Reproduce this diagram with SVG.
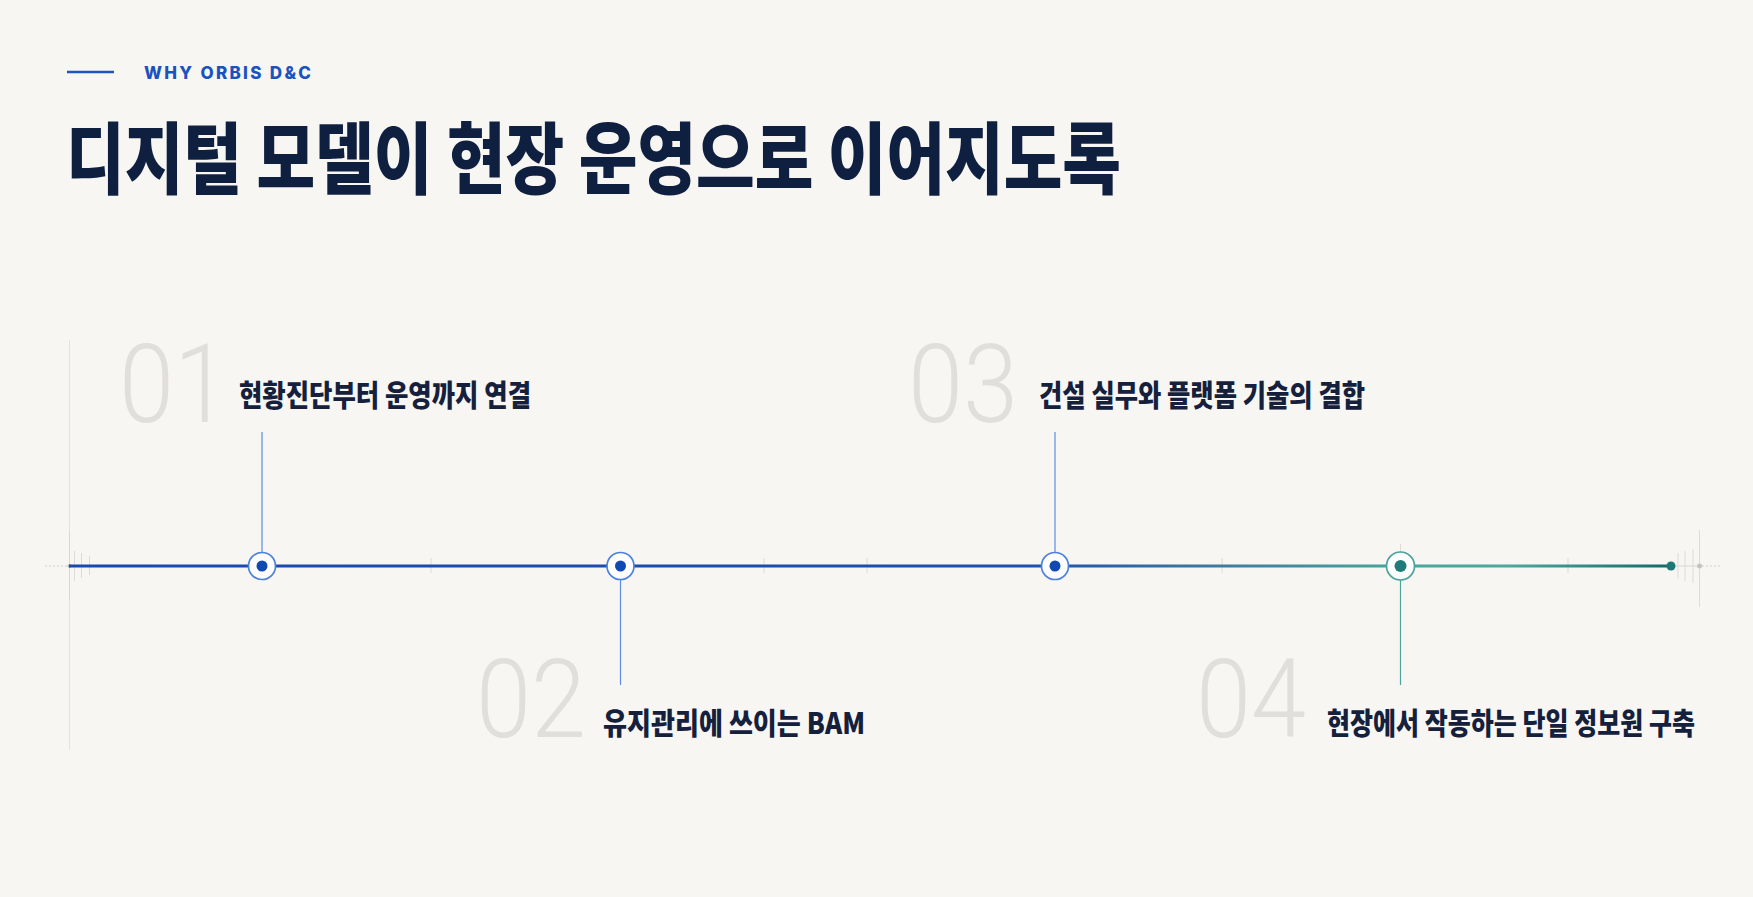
<svg xmlns="http://www.w3.org/2000/svg" width="1753" height="897" viewBox="0 0 1753 897">
  <defs>
    <style>
      .eyebrow { font-family: "Inter", "Liberation Sans", sans-serif; font-weight: 800; font-size: 17px; fill: #1a52c2; }
      .title { font-family: "Noto Sans CJK KR", "Noto Sans", sans-serif; font-weight: 900; font-size: 78px; fill: #0f1f3f; }
      .num { font-family: "Roboto", "Noto Sans", sans-serif; font-weight: 300; font-size: 110px; fill: #e1dfdb; }
      .label { font-family: "Noto Sans CJK KR", "Noto Sans", sans-serif; font-weight: 900; font-size: 29.5px; fill: #15213c; }
      .faint { stroke: #e4e2de; stroke-width: 1; fill: none; }
      .tick { stroke: #dddbd7; stroke-width: 1; fill: none; }
      .stem-blue { stroke: #5d8ee0; stroke-width: 1.2; fill: none; }
      .stem-teal { stroke: #4fa39c; stroke-width: 1.2; fill: none; }
      .ring-blue { fill: #fefefe; stroke: #4d82da; stroke-width: 1.7; }
      .ring-teal { fill: #fefefe; stroke: #4aa39c; stroke-width: 1.7; }
      .dot-blue { fill: #1149b2; }
      .dot-teal { fill: #1e7b79; }
    </style>
    <linearGradient id="tl" gradientUnits="userSpaceOnUse" x1="69" y1="0" x2="1671" y2="0">
      <stop offset="0" stop-color="#1848b2"/>
      <stop offset="0.6" stop-color="#1d4fb0"/>
      <stop offset="0.72" stop-color="#3f7d9e"/>
      <stop offset="0.83" stop-color="#45a79c"/>
      <stop offset="0.9" stop-color="#4aa89f"/>
      <stop offset="1" stop-color="#106b6b"/>
    </linearGradient>
  </defs>

  <rect x="0" y="0" width="1753" height="897" fill="#f7f6f2"/>

  <g id="header">
    <line x1="67" y1="72" x2="114" y2="72" stroke="#1d54c4" stroke-width="2.5"/>
    <text class="eyebrow" x="144" y="78.5" textLength="167" lengthAdjust="spacing">WHY ORBIS D&amp;C</text>
    <text class="title" x="66" y="188" textLength="1055" lengthAdjust="spacingAndGlyphs">디지털 모델이 현장 운영으로 이어지도록</text>
  </g>

  <g id="guides">
    <line class="faint" x1="69.5" y1="340" x2="69.5" y2="750"/>
    <line x1="69.5" y1="530" x2="69.5" y2="600" stroke="#dad8d4" stroke-width="1"/>
    <line x1="45" y1="566" x2="69" y2="566" stroke="#cfcdc9" stroke-width="1" stroke-dasharray="2 2"/>
    <circle cx="69.5" cy="566" r="2" fill="#b9b8b5"/>
    <line class="tick" x1="74.5" y1="551" x2="74.5" y2="581"/>
    <line class="tick" x1="81.5" y1="553" x2="81.5" y2="578"/>
    <line class="tick" x1="89.5" y1="556" x2="89.5" y2="575"/>
    <line class="tick" x1="431" y1="558" x2="431" y2="573"/>
    <line class="tick" x1="764" y1="558" x2="764" y2="573"/>
    <line class="tick" x1="867" y1="558" x2="867" y2="573"/>
    <line class="tick" x1="1222" y1="558" x2="1222" y2="573"/>
    <line class="tick" x1="1400.5" y1="544" x2="1400.5" y2="588"/>
    <line class="tick" x1="1568" y1="558" x2="1568" y2="573"/>
    <line x1="1671" y1="566" x2="1699" y2="566" stroke="#d9d7d3" stroke-width="1"/>
    <line class="tick" x1="1678" y1="553" x2="1678" y2="579"/>
    <line class="tick" x1="1685" y1="551" x2="1685" y2="581"/>
    <line class="tick" x1="1693" y1="549" x2="1693" y2="583"/>
    <line x1="1699.5" y1="530" x2="1699.5" y2="607" stroke="#dedcd8" stroke-width="1"/>
    <circle cx="1699.5" cy="566" r="2.5" fill="#c4c3c0"/>
    <line x1="1702" y1="566" x2="1722" y2="566" stroke="#d3d1cd" stroke-width="1" stroke-dasharray="2 2"/>
  </g>

  <g id="connectors">
    <line x1="69" y1="566" x2="1671" y2="566" stroke="url(#tl)" stroke-width="3"/>
    <line class="stem-blue" x1="262" y1="432" x2="262" y2="552"/>
    <line class="stem-blue" x1="620.5" y1="580" x2="620.5" y2="685"/>
    <line class="stem-blue" x1="1055" y1="432" x2="1055" y2="552"/>
    <line class="stem-teal" x1="1400.5" y1="580" x2="1400.5" y2="685"/>
  </g>

  <g id="node-01">
    <text class="num" x="119" y="422" textLength="110" lengthAdjust="spacingAndGlyphs">01</text>
    <text class="label" x="239" y="406" textLength="292" lengthAdjust="spacingAndGlyphs">현황진단부터 운영까지 연결</text>
    <circle class="ring-blue" cx="262" cy="566" r="13.5"/>
    <circle class="dot-blue" cx="262" cy="566" r="5.5"/>
  </g>

  <g id="node-02">
    <text class="num" x="476" y="737" textLength="110" lengthAdjust="spacingAndGlyphs">02</text>
    <text class="label" x="603" y="734" textLength="262" lengthAdjust="spacingAndGlyphs">유지관리에 쓰이는 BAM</text>
    <circle class="ring-blue" cx="620.5" cy="566" r="13.5"/>
    <circle class="dot-blue" cx="620.5" cy="566" r="5.5"/>
  </g>

  <g id="node-03">
    <text class="num" x="908" y="422" textLength="110" lengthAdjust="spacingAndGlyphs">03</text>
    <text class="label" x="1039" y="406" textLength="326" lengthAdjust="spacingAndGlyphs">건설 실무와 플랫폼 기술의 결합</text>
    <circle class="ring-blue" cx="1055" cy="566" r="13.5"/>
    <circle class="dot-blue" cx="1055" cy="566" r="5.5"/>
  </g>

  <g id="node-04">
    <text class="num" x="1196" y="737" textLength="110" lengthAdjust="spacingAndGlyphs">04</text>
    <text class="label" x="1327" y="734" textLength="368" lengthAdjust="spacingAndGlyphs">현장에서 작동하는 단일 정보원 구축</text>
    <circle class="ring-teal" cx="1400.5" cy="566" r="14"/>
    <circle class="dot-teal" cx="1400.5" cy="566" r="6"/>
  </g>

  <g id="end-node">
    <circle cx="1671" cy="566" r="4.5" fill="#1d7877"/>
  </g>
</svg>
